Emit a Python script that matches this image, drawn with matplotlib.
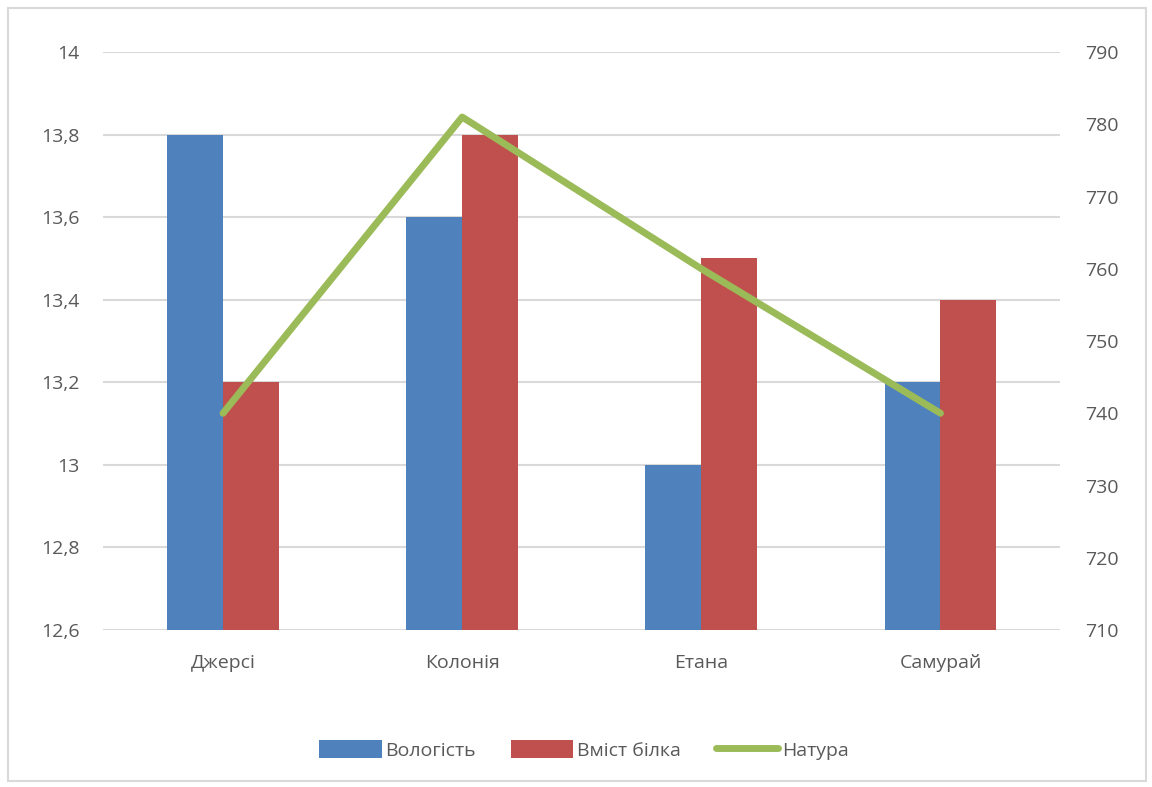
import numpy as np
import matplotlib.pyplot as plt
from matplotlib.patches import Rectangle

plt.rcParams['font.family'] = ['Open Sans', 'DejaVu Sans']

categories = ['Джерсі', 'Колонія', 'Етана', 'Самурай']
moisture = [13.8, 13.6, 13.0, 13.2]      # Вологість
protein = [13.2, 13.8, 13.5, 13.4]       # Вміст білка
natura = [740, 781, 760, 740]            # Натура

left_ticks = [12.6, 12.8, 13.0, 13.2, 13.4, 13.6, 13.8, 14.0]
left_labels = ['12,6', '12,8', '13', '13,2', '13,4', '13,6', '13,8', '14']
right_ticks = [710, 720, 730, 740, 750, 760, 770, 780, 790]

blue = '#4f81bd'
red = '#c0504d'
green = '#9bbb59'
text_col = '#595959'
grid_col = '#d9d9d9'

fig = plt.figure(figsize=(11.52, 7.87), dpi=100)
ax = fig.add_axes([0.0898, 0.1995, 0.8304, 0.7344])
ax2 = ax.twinx()

x = np.arange(len(categories))
w = 0.234
ax.bar(x - w / 2, moisture, w, color=blue, label='Вологість', zorder=2)
ax.bar(x + w / 2, protein, w, color=red, label='Вміст білка', zorder=2)
ax2.plot(x, natura, color=green, linewidth=5, label='Натура', solid_capstyle='round')

ax.set_xlim(-0.5, len(categories) - 0.5)
ax.set_ylim(12.6, 14.0)
ax2.set_ylim(710, 790)

ax.set_yticks(left_ticks)
ax.set_yticklabels(left_labels)
ax2.set_yticks(right_ticks)
ax.set_xticks(x)
ax.set_xticklabels(categories)

ax.grid(axis='y', color=grid_col, linewidth=1.5, zorder=0)
ax.set_axisbelow(True)
for a in (ax, ax2):
    for s in a.spines.values():
        s.set_visible(False)
    a.tick_params(length=0, labelsize=14, colors=text_col)
ax.tick_params(axis='y', pad=17)
ax2.tick_params(axis='y', pad=18)
ax.tick_params(axis='x', pad=17)

h1, l1 = ax.get_legend_handles_labels()
h2, l2 = ax2.get_legend_handles_labels()
leg = fig.legend(h1 + h2, l1 + l2, loc='center', bbox_to_anchor=(0.507, 0.047), ncol=3,
                 frameon=False, fontsize=14, handlelength=3.2, handleheight=1.0,
                 columnspacing=1.8, handletextpad=0.2)
for t in leg.get_texts():
    t.set_color(text_col)

fig.patches.append(Rectangle((0.007, 0.008), 0.988, 0.982, transform=fig.transFigure,
                             fill=False, edgecolor=grid_col, linewidth=1.5))

fig.savefig('out.png', dpi=100)
